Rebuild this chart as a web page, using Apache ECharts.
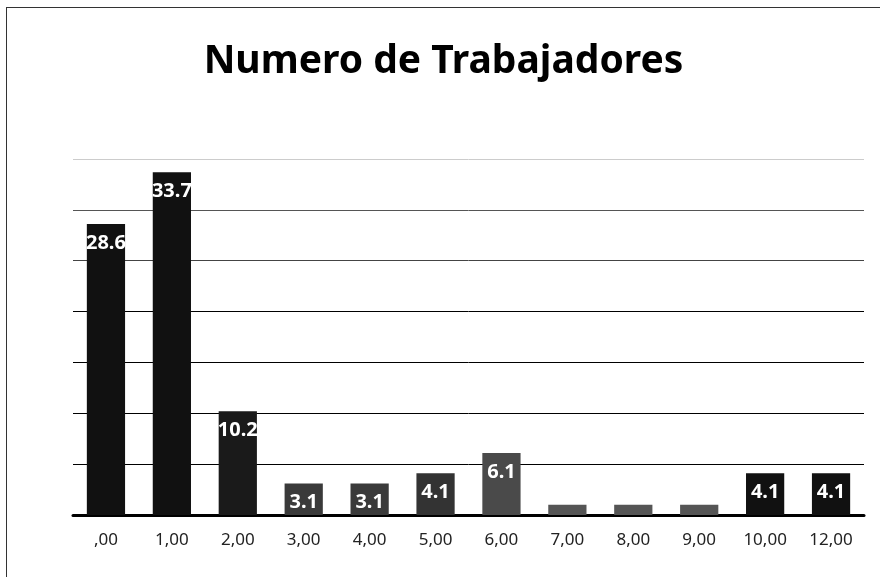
<!DOCTYPE html>
<html>
<head>
<meta charset="utf-8">
<script src="https://cdn.jsdelivr.net/npm/echarts@6/dist/echarts.min.js"></script>
<style>
  html, body { margin: 0; padding: 0; background: #fff; overflow: hidden; }
  #chart {
    width: 874px;
    height: 570px;
    box-sizing: border-box;
    border-left: 1px solid #333;
    border-top: 1px solid #333;
    position: absolute;
    left: 6px;
    top: 7px;
  }
</style>
</head>
<body>
<div id="chart"></div>
<script>
const categories = [',00', '1,00', '2,00', '3,00', '4,00', '5,00', '6,00', '7,00', '8,00', '9,00', '10,00', '12,00']
const values = [28.6, 33.7, 10.2, 3.1, 3.1, 4.1, 6.1, 1.0, 1.0, 1.0, 4.1, 4.1]
const barColors = ['#111', '#111', '#1a1a1a', '#3a3a3a', '#3a3a3a', '#333', '#4a4a4a', '#555', '#555', '#555', '#111', '#111']
const yTicks = [0, 5, 10, 15, 20, 25, 30, 35]

const myEchart = echarts.init(document.getElementById('chart'))

myEchart.setOption({
  animation: false,
  title: {
    text: 'Numero de Trabajadores',
    left: 'center',
    top: 29,
    textStyle: {
      fontFamily: 'Noto Sans',
      fontSize: 39,
      fontWeight: 'bold',
      color: '#000'
    }
  },
  grid: {
    left: 66,
    right: 16,
    top: 151,
    bottom: 62
  },
  xAxis: {
    type: 'category',
    data: categories,
    axisTick: { show: false },
    axisLine: {
      lineStyle: { color: '#000', width: 3 }
    },
    axisLabel: {
      color: '#222',
      fontFamily: 'Noto Sans',
      fontSize: 17,
      margin: 17
    }
  },
  yAxis: {
    type: 'value',
    min: yTicks[0],
    max: yTicks[yTicks.length - 1],
    interval: 5,
    axisLabel: { show: false },
    axisLine: { show: false },
    axisTick: { show: false },
    splitLine: {
      lineStyle: {
        color: ['#000', '#000', '#000', '#000', '#000', '#444', '#555', '#ccc'],
        width: 1
      }
    }
  },
  series: [
    {
      type: 'bar',
      barWidth: '58%',
      data: values.map((v, i) => ({
        value: v,
        itemStyle: { color: barColors[i] },
        label: { show: v > 2 }
      })),
      label: {
        position: 'insideTop',
        distance: 9,
        color: '#fff',
        fontFamily: 'Noto Sans',
        fontWeight: 'bold',
        fontSize: 20
      }
    }
  ]
})
</script>
</body>
</html>
